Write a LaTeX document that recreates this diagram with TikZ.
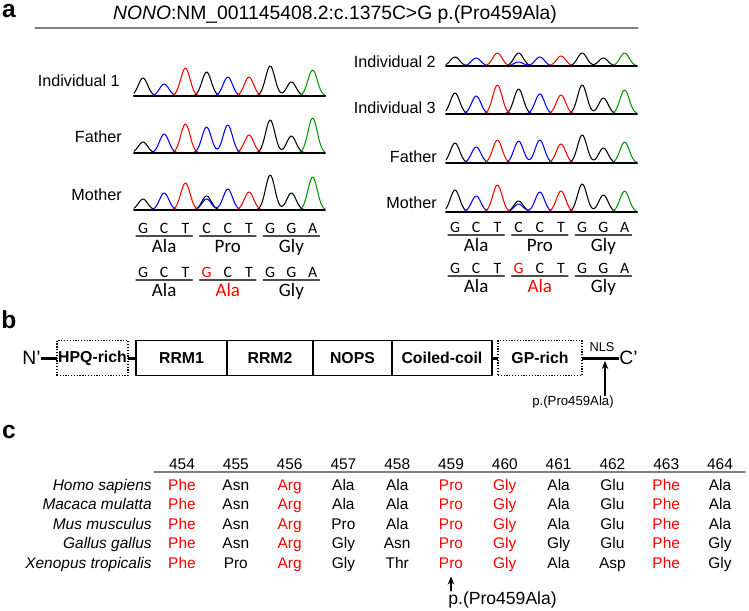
\documentclass[tikz,border=0pt]{standalone}
\usepackage{fontspec}
\setmainfont{Liberation Sans}
\newfontfamily\carlito{Carlito}
\usepackage{tikz}
\usetikzlibrary{arrows.meta,positioning,calc}
\tikzset{
  every picture/.append style={line cap=round,line join=round},
  nono panel/.style={font=\fontsize{14}{16}\selectfont\bfseries,inner sep=0pt},
  nono sample/.style={font=\fontsize{9.2}{11}\selectfont,anchor=east,inner sep=0pt},
  nono trace/.style={line width=0.6pt},
  nono base/.style={font=\carlito\fontsize{9}{10}\selectfont,inner sep=0pt},
  nono amino/.style={font=\carlito\fontsize{10.8}{12}\selectfont,inner sep=0pt,anchor=base},
  nono rule/.style={black!70,line width=0.6pt},
  nono domain/.style={draw,line width=0.7pt,minimum height=0.7cm,inner sep=0pt,outer sep=0pt,
    font=\fontsize{9}{10}\selectfont\bfseries},
  nono loose/.style={nono domain,dash pattern=on 0.7pt off 0.9pt,line cap=butt},
  nono link/.style={line width=1.7pt,line cap=butt},
  nono arrow/.style={line width=0.6pt,-{Stealth[length=1.6mm,width=1.3mm]}},
  nono cell/.style={font=\fontsize{8.8}{10}\selectfont,inner sep=0pt,anchor=base}
}
% one chromatogram: x of first peak, baseline, then the G, C, T and A curves
\newcommand{\trace}[6]{%
  \draw[nono trace,black] plot[domain=-9:182,samples=150] ({#1+(\x)},{#2-(#3)});
  \draw[nono trace,blue] plot[domain=-9:182,samples=150] ({#1+(\x)},{#2-(#4)});
  \draw[nono trace,red] plot[domain=-9:182,samples=150] ({#1+(\x)},{#2-(#5)});
  \draw[nono trace,green!60!black] plot[domain=-9:182,samples=150] ({#1+(\x)},{#2-(#6)});
  \draw[nono trace] ({#1-9},#2) -- ({#1+182},#2);
}
% bases and amino acids under a chromatogram
\newcommand{\codonrow}[5]{%
  \foreach \b [count=\i from 0] in {G,C,T,#4,C,T,G,G,A}
    \node[nono base] (#1b\i) at ({#2+\i*21.2},#3) {\b};
  \foreach \aa [count=\j from 0] in {Ala,#5,Gly} {
    \draw[nono rule] ({#2+\j*63.6-7},{#3+8}) -- ({#2+\j*63.6+49.4},{#3+8});
    \node[nono amino] (#1a\j) at ({#2+\j*63.6+21.2},{#3+24}) {\aa};
  }
}

\begin{document}
\begin{tikzpicture}[x=0.02cm,y=-0.02cm,
  declare function={pk(\xx,\pp)=exp(-1*min(((\xx-\pp*21.2)/6.6)*((\xx-\pp*21.2)/6.6),20));}]
\useasboundingbox (0,0) rectangle (749,610);

%% a
\node[nono panel] (pa) at (9,11) {a};
\node[font=\fontsize{11}{13}\selectfont,inner sep=0pt] (title) at (335,14)
  {\textit{NONO}:NM\_001145408.2:c.1375C>G p.(Pro459Ala)};
\draw[gray,line width=0.6pt] (35,28) -- (638,28);

\node[nono sample] (ind1) at (120,81) {Individual 1};
\node[nono sample] (fa1) at (122,137) {Father};
\node[nono sample] (mo1) at (122,195) {Mother};
\node[nono sample] (ind2) at (436,62) {Individual 2};
\node[nono sample] (ind3) at (436,108) {Individual 3};
\node[nono sample] (fa2) at (437,157) {Father};
\node[nono sample] (mo2) at (437,203) {Mother};

\trace{143}{96}{18*pk(\x,0)+24*pk(\x,3)+30*pk(\x,6)+14*pk(\x,7)}
  {12*pk(\x,1)+19*pk(\x,4)}{28*pk(\x,2)+19*pk(\x,5)}{26*pk(\x,8)}
\trace{143}{153}{11*pk(\x,0)+33*pk(\x,6)+17*pk(\x,7)}
  {19*pk(\x,1)+26*pk(\x,3)+28*pk(\x,4)}{29*pk(\x,2)+18*pk(\x,5)}{35*pk(\x,8)}
\trace{143}{210}{11*pk(\x,0)+14*pk(\x,3)+35*pk(\x,6)+17*pk(\x,7)}
  {17*pk(\x,1)+11*pk(\x,3)+21*pk(\x,4)}{27*pk(\x,2)+18*pk(\x,5)}{33*pk(\x,8)}
\trace{455}{66}{9*pk(\x,0)+13*pk(\x,3)+13*pk(\x,6)+8*pk(\x,7)}
  {8*pk(\x,1)+4*pk(\x,3)+9*pk(\x,4)}{13*pk(\x,2)+10*pk(\x,5)}{13*pk(\x,8)}
\trace{455}{114}{21*pk(\x,0)+25*pk(\x,3)+29*pk(\x,6)+16*pk(\x,7)}
  {18*pk(\x,1)+20*pk(\x,4)}{29*pk(\x,2)+19*pk(\x,5)}{24*pk(\x,8)}
\trace{455}{163}{20*pk(\x,0)+28*pk(\x,6)+15*pk(\x,7)}
  {16*pk(\x,1)+22*pk(\x,3)+23*pk(\x,4)}{23*pk(\x,2)+19*pk(\x,5)}{21*pk(\x,8)}
\trace{455}{212}{22*pk(\x,0)+11*pk(\x,3)+28*pk(\x,6)+17*pk(\x,7)}
  {16*pk(\x,1)+8*pk(\x,3)+20*pk(\x,4)}{27*pk(\x,2)+21*pk(\x,5)}{21*pk(\x,8)}

\codonrow{lw}{143}{228}{C}{Pro}
\codonrow{lm}{143}{272}{\textcolor{red}{G}}{\textcolor{red}{Ala}}
\codonrow{rw}{455}{227}{C}{Pro}
\codonrow{rm}{455}{268}{\textcolor{red}{G}}{\textcolor{red}{Ala}}

%% b
\node[nono panel] (pb) at (9,320) {b};
\node[font=\fontsize{11}{13}\selectfont,inner sep=0pt,anchor=east] (nterm) at (41,358) {N'};
\node[nono loose,minimum width=1.42cm] (hpq) at (92.5,358) {HPQ-rich};
\node[nono domain,minimum width=1.82cm] (rrm1) at (181.5,358) {RRM1};
\node[nono domain,minimum width=1.72cm,right=0pt of rrm1] (rrm2) {RRM2};
\node[nono domain,minimum width=1.58cm,right=0pt of rrm2] (nops) {NOPS};
\node[nono domain,minimum width=2.0cm,right=0pt of nops] (coil) {Coiled-coil};
\node[nono loose,minimum width=1.68cm] (gp) at (540,358) {GP-rich};
\node[font=\fontsize{11}{13}\selectfont,inner sep=0pt,anchor=west] (cterm) at (619,358) {C'};
\node[font=\fontsize{7.3}{9}\selectfont,inner sep=0pt] (nls) at (602,347) {NLS};
\draw[nono link] (nterm.east) -- (hpq.west);
\draw[nono link] (hpq.east) -- (rrm1.west);
\draw[nono link] (coil.east) -- (gp.west);
\draw[nono link] (gp.east) -- (cterm.west);
\coordinate (nlsmut) at (605,361);
\node[font=\fontsize{7.5}{9}\selectfont,inner sep=0pt] (mutb) at (573,402) {p.(Pro459Ala)};
\draw[nono arrow] (mutb.north -| nlsmut) -- (nlsmut);

%% c
\node[nono panel] (pc) at (9,432) {c};
\foreach \n [count=\c] in {454,...,464}
  \node[nono cell] (num\c) at ({182+(\c-1)*53.8},469) {\n};
\draw[gray,line width=0.7pt] (154,472) -- (745,472);
\foreach \sp/\aas [count=\r] in {
  {Homo sapiens}/{Phe,Asn,Arg,Ala,Ala,Pro,Gly,Ala,Glu,Phe,Ala},
  {Macaca mulatta}/{Phe,Asn,Arg,Ala,Ala,Pro,Gly,Ala,Glu,Phe,Ala},
  {Mus musculus}/{Phe,Asn,Arg,Pro,Ala,Pro,Gly,Ala,Glu,Phe,Ala},
  {Gallus gallus}/{Phe,Asn,Arg,Gly,Asn,Pro,Gly,Gly,Glu,Phe,Gly},
  {Xenopus tropicalis}/{Phe,Pro,Arg,Gly,Thr,Pro,Gly,Ala,Asp,Phe,Gly}} {
  \node[nono cell,anchor=base east,font=\fontsize{8.8}{10}\selectfont\itshape] (sp\r)
    at (152,{490+(\r-1)*19.5}) {\sp};
  \foreach \aa [count=\c] in \aas {
    \pgfmathtruncatemacro\hot{(\c==1)||(\c==3)||(\c==6)||(\c==7)||(\c==10)}
    \ifnum\hot=1 \def\aacol{red}\else\def\aacol{black}\fi
    \node[nono cell,text=\aacol] (aa\r-\c) at ({182+(\c-1)*53.8},{490+(\r-1)*19.5}) {\aa};
  }
}
\node[font=\fontsize{10}{12}\selectfont,inner sep=0pt,anchor=base west] (mutc) at (448,604) {p.(Pro459Ala)};
\draw[nono arrow,shorten >=0.16cm] (mutc.north -| aa5-6) -- (aa5-6.south);
\end{tikzpicture}
\end{document}
